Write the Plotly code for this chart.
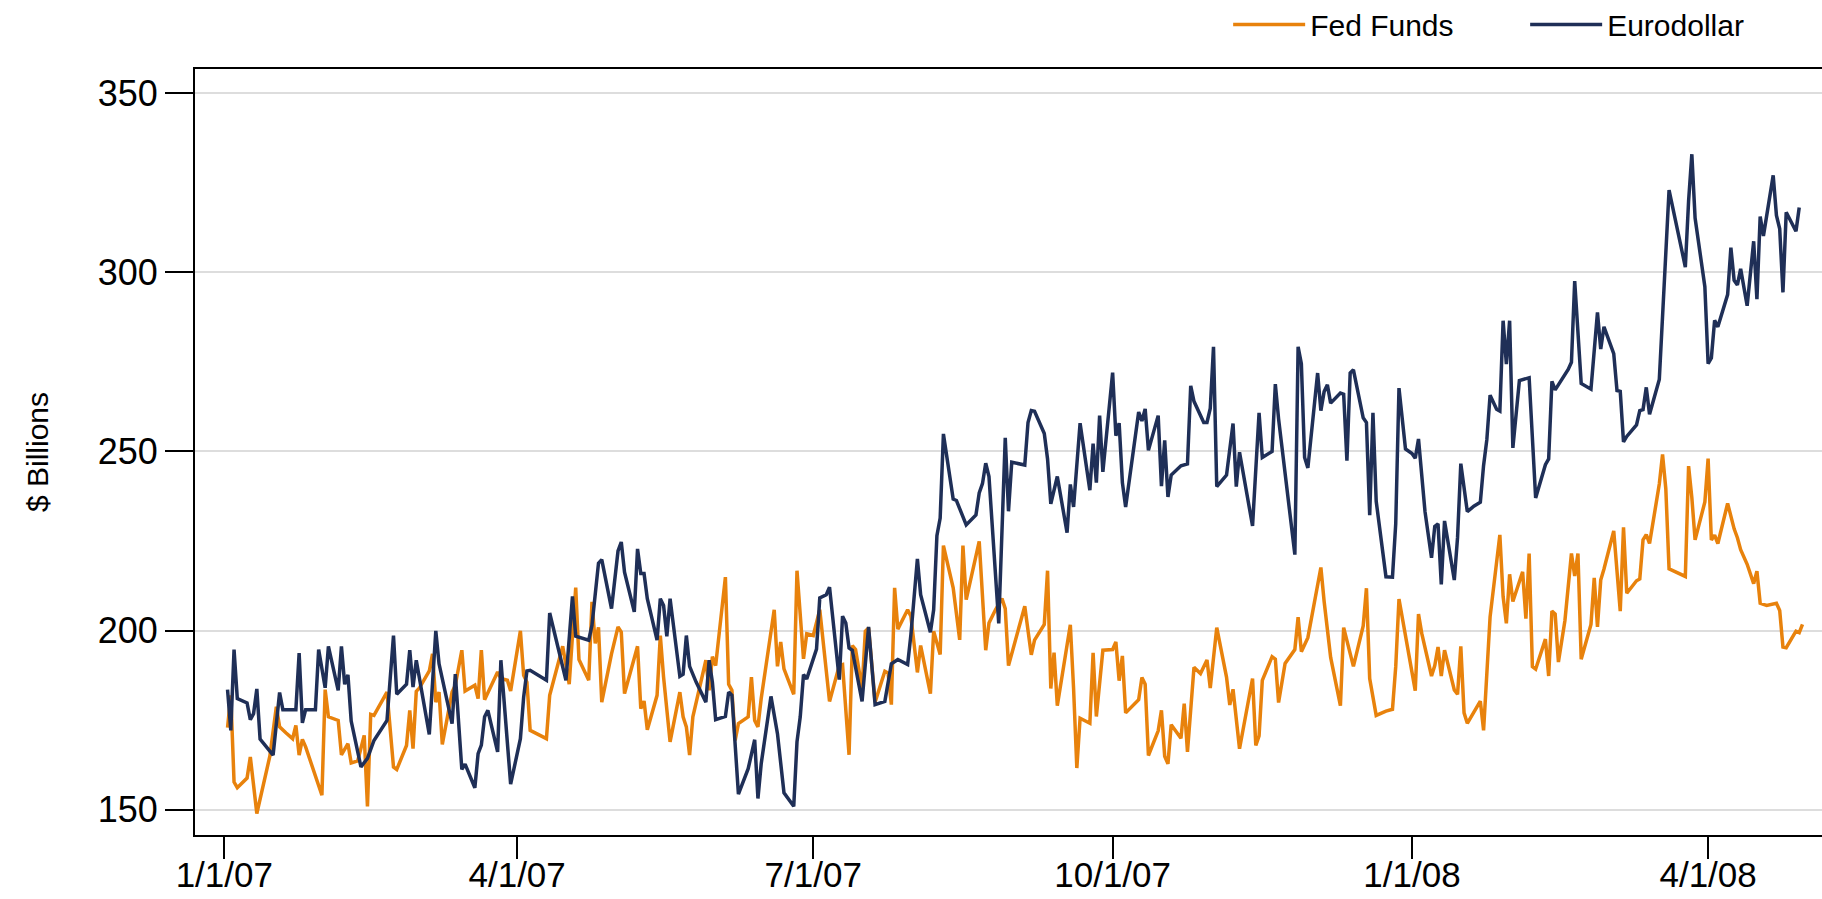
import plotly.graph_objects as go

# ---------------- data ----------------
euro_dates = [
    "2007-01-02","2007-01-03","2007-01-04","2007-01-05","2007-01-08","2007-01-09","2007-01-10","2007-01-11","2007-01-12","2007-01-16",
    "2007-01-18","2007-01-19","2007-01-23","2007-01-24","2007-01-25","2007-01-26","2007-01-29","2007-01-30","2007-02-01","2007-02-02",
    "2007-02-05","2007-02-06","2007-02-07","2007-02-08","2007-02-09","2007-02-12","2007-02-14","2007-02-16","2007-02-20","2007-02-22",
    "2007-02-23","2007-02-26","2007-02-27","2007-02-28","2007-03-01","2007-03-05","2007-03-07","2007-03-08","2007-03-12","2007-03-13",
    "2007-03-15","2007-03-16","2007-03-19","2007-03-20","2007-03-21","2007-03-22","2007-03-23","2007-03-26","2007-03-27","2007-03-30",
    "2007-04-02","2007-04-03","2007-04-04","2007-04-05","2007-04-10","2007-04-11","2007-04-16","2007-04-18","2007-04-19","2007-04-23",
    "2007-04-24","2007-04-26","2007-04-27","2007-04-30","2007-05-02","2007-05-03","2007-05-04","2007-05-07","2007-05-08","2007-05-09",
    "2007-05-10","2007-05-11","2007-05-14","2007-05-15","2007-05-16","2007-05-17","2007-05-18","2007-05-21","2007-05-22","2007-05-23",
    "2007-05-24","2007-05-26","2007-05-29","2007-05-30","2007-05-31","2007-06-01","2007-06-04","2007-06-05","2007-06-06","2007-06-08",
    "2007-06-11","2007-06-13","2007-06-14","2007-06-15","2007-06-18","2007-06-20","2007-06-22","2007-06-25","2007-06-26","2007-06-27",
    "2007-06-28","2007-06-29","2007-07-02","2007-07-03","2007-07-05","2007-07-06","2007-07-09","2007-07-10","2007-07-11","2007-07-12",
    "2007-07-13","2007-07-16","2007-07-18","2007-07-20","2007-07-23","2007-07-25","2007-07-27","2007-07-30","2007-07-31","2007-08-02",
    "2007-08-03","2007-08-06","2007-08-07","2007-08-08","2007-08-09","2007-08-10","2007-08-13","2007-08-14","2007-08-17","2007-08-20",
    "2007-08-21","2007-08-22","2007-08-23","2007-08-24","2007-08-27","2007-08-29","2007-08-30","2007-08-31","2007-09-04","2007-09-05",
    "2007-09-06","2007-09-07","2007-09-10","2007-09-11","2007-09-12","2007-09-14","2007-09-17","2007-09-18","2007-09-19","2007-09-21",
    "2007-09-24","2007-09-25","2007-09-26","2007-09-27","2007-09-28","2007-10-01","2007-10-02","2007-10-03","2007-10-04","2007-10-05",
    "2007-10-09","2007-10-10","2007-10-11","2007-10-12","2007-10-15","2007-10-16","2007-10-17","2007-10-18","2007-10-19","2007-10-22",
    "2007-10-24","2007-10-25","2007-10-26","2007-10-29","2007-10-30","2007-10-31","2007-11-01","2007-11-02","2007-11-05","2007-11-07",
    "2007-11-08","2007-11-09","2007-11-13","2007-11-15","2007-11-16","2007-11-19","2007-11-20","2007-11-21","2007-11-26","2007-11-27",
    "2007-11-28","2007-11-29","2007-11-30","2007-12-03","2007-12-04","2007-12-05","2007-12-06","2007-12-07","2007-12-10","2007-12-11",
    "2007-12-12","2007-12-13","2007-12-14","2007-12-17","2007-12-18","2007-12-19","2007-12-20","2007-12-21","2007-12-24","2007-12-26",
    "2007-12-27","2007-12-28","2007-12-30","2008-01-01","2008-01-02","2008-01-03","2008-01-05","2008-01-07","2008-01-08","2008-01-09",
    "2008-01-10","2008-01-11","2008-01-14","2008-01-15","2008-01-16","2008-01-18","2008-01-20","2008-01-22","2008-01-23","2008-01-24",
    "2008-01-25","2008-01-27","2008-01-28","2008-01-29","2008-01-30","2008-01-31","2008-02-01","2008-02-03","2008-02-06","2008-02-07",
    "2008-02-08","2008-02-11","2008-02-12","2008-02-13","2008-02-14","2008-02-18","2008-02-19","2008-02-20","2008-02-21","2008-02-22",
    "2008-02-25","2008-02-27","2008-02-28","2008-02-29","2008-03-03","2008-03-04","2008-03-05","2008-03-06","2008-03-07","2008-03-10",
    "2008-03-11","2008-03-12","2008-03-13","2008-03-14","2008-03-17","2008-03-18","2008-03-20","2008-03-25","2008-03-26","2008-03-27",
    "2008-03-28","2008-03-31","2008-04-01","2008-04-02","2008-04-03","2008-04-04","2008-04-07","2008-04-08","2008-04-09","2008-04-10",
    "2008-04-11","2008-04-13","2008-04-15","2008-04-16","2008-04-17","2008-04-18","2008-04-21","2008-04-22","2008-04-23","2008-04-24",
    "2008-04-25","2008-04-28","2008-04-29","2008-04-30",
]
euro_values = [
    183.5,172.1,194.7,181.0,179.8,175.1,176.8,183.7,169.7,165.2,
    182.7,177.9,177.9,193.7,174.2,177.9,177.9,194.7,184.0,195.6,
    183.3,195.6,185.0,187.6,174.7,161.9,164.3,169.3,174.9,198.6,
    182.2,185.0,194.5,184.2,191.7,171.0,199.9,190.7,174.0,187.8,
    161.2,162.7,156.1,165.6,168.0,175.9,177.7,166.1,191.7,157.1,
    169.8,181.4,188.7,188.9,186.1,204.9,186.1,209.5,198.4,197.3,
    201.5,218.8,219.8,206.1,222.2,224.7,216.3,205.2,222.8,215.9,
    215.9,208.9,197.3,208.9,207.0,198.4,208.9,187.2,187.8,198.6,
    190.0,185.6,180.0,191.7,185.6,175.1,176.0,182.8,181.9,154.3,
    161.4,169.5,153.1,162.8,181.6,171.2,154.7,150.9,168.9,175.9,
    187.7,186.5,194.8,209.1,210.0,212.1,186.3,204.0,202.1,195.1,
    194.5,180.2,201.0,179.3,180.2,190.7,191.9,190.5,198.8,220.0,
    210.0,199.5,205.8,226.5,231.4,254.9,236.7,236.3,229.5,232.3,
    238.4,241.0,246.7,243.0,202.0,253.8,233.3,247.0,246.2,258.1,
    261.4,261.2,255.0,247.9,235.4,243.0,227.3,240.8,234.5,257.9,
    239.2,252.2,241.3,260.0,244.3,272.0,254.4,257.9,241.3,234.5,
    261.0,258.5,261.9,250.3,260.0,240.3,253.1,237.3,243.4,246.0,
    246.5,268.3,264.0,258.1,258.1,262.0,279.2,240.2,243.4,257.8,
    240.2,249.8,229.2,260.8,248.3,250.0,268.8,259.1,221.2,279.2,
    274.5,248.3,245.4,271.9,261.4,266.7,268.6,263.5,266.3,266.0,
    247.4,271.9,272.8,259.4,258.1,232.2,260.8,236.1,215.0,214.9,
    229.8,267.7,250.7,249.4,248.1,253.5,233.2,220.3,229.1,229.8,
    212.9,230.6,214.1,226.0,246.6,233.2,234.7,235.8,246.1,253.3,
    265.7,261.8,261.3,286.5,274.4,286.5,251.0,269.8,270.6,253.3,
    237.0,246.3,247.9,269.6,267.2,272.9,274.9,297.6,283.7,269.0,
    267.4,288.8,278.6,284.8,277.3,267.0,266.8,252.7,254.2,257.4,
    261.4,261.7,267.9,260.4,270.1,286.9,323.0,301.5,319.9,333.0,
    315.2,296.0,274.5,276.1,286.6,284.8,293.8,306.9,297.8,296.5,
    301.0,290.7,308.7,292.5,315.6,310.2,327.1,315.9,312.2,294.4,
    316.8,311.5,318.1,
]

fed_dates = [
    "2007-01-02","2007-01-03","2007-01-04","2007-01-05","2007-01-08","2007-01-09","2007-01-11","2007-01-15","2007-01-17","2007-01-18",
    "2007-01-20","2007-01-22","2007-01-23","2007-01-24","2007-01-25","2007-01-26","2007-01-31","2007-02-01","2007-02-02","2007-02-05",
    "2007-02-06","2007-02-08","2007-02-09","2007-02-11","2007-02-13","2007-02-14","2007-02-15","2007-02-16","2007-02-20","2007-02-22",
    "2007-02-23","2007-02-26","2007-02-27","2007-02-28","2007-03-01","2007-03-02","2007-03-05","2007-03-06","2007-03-07","2007-03-08",
    "2007-03-09","2007-03-12","2007-03-13","2007-03-15","2007-03-16","2007-03-19","2007-03-20","2007-03-21","2007-03-22","2007-03-26",
    "2007-03-27","2007-03-29","2007-03-30","2007-04-02","2007-04-03","2007-04-04","2007-04-05","2007-04-10","2007-04-11","2007-04-15",
    "2007-04-17","2007-04-19","2007-04-20","2007-04-23","2007-04-24","2007-04-25","2007-04-26","2007-04-27","2007-04-30","2007-05-02",
    "2007-05-03","2007-05-04","2007-05-08","2007-05-09","2007-05-10","2007-05-11","2007-05-14","2007-05-15","2007-05-16","2007-05-18",
    "2007-05-21","2007-05-22","2007-05-23","2007-05-24","2007-05-25","2007-05-29","2007-05-30","2007-05-31","2007-06-01","2007-06-04",
    "2007-06-05","2007-06-06","2007-06-07","2007-06-08","2007-06-11","2007-06-12","2007-06-13","2007-06-14","2007-06-15","2007-06-19",
    "2007-06-20","2007-06-21","2007-06-22","2007-06-25","2007-06-26","2007-06-28","2007-06-29","2007-07-01","2007-07-03","2007-07-06",
    "2007-07-09","2007-07-10","2007-07-12","2007-07-13","2007-07-14","2007-07-16","2007-07-17","2007-07-18","2007-07-20","2007-07-23",
    "2007-07-24","2007-07-25","2007-07-26","2007-07-27","2007-07-30","2007-07-31","2007-08-02","2007-08-03","2007-08-06","2007-08-07",
    "2007-08-09","2007-08-10","2007-08-13","2007-08-15","2007-08-16","2007-08-17","2007-08-21","2007-08-23","2007-08-24","2007-08-26",
    "2007-08-28","2007-08-29","2007-08-30","2007-09-04","2007-09-06","2007-09-07","2007-09-10","2007-09-11","2007-09-12","2007-09-13",
    "2007-09-14","2007-09-18","2007-09-19","2007-09-20","2007-09-21","2007-09-24","2007-09-25","2007-09-26","2007-09-28","2007-10-01",
    "2007-10-02","2007-10-03","2007-10-04","2007-10-05","2007-10-09","2007-10-10","2007-10-11","2007-10-12","2007-10-15","2007-10-16",
    "2007-10-17","2007-10-18","2007-10-19","2007-10-22","2007-10-23","2007-10-24","2007-10-26","2007-10-28","2007-10-30","2007-10-31",
    "2007-11-02","2007-11-05","2007-11-06","2007-11-07","2007-11-09","2007-11-13","2007-11-14","2007-11-15","2007-11-16","2007-11-19",
    "2007-11-20","2007-11-21","2007-11-23","2007-11-26","2007-11-27","2007-11-28","2007-11-30","2007-12-03","2007-12-04","2007-12-05",
    "2007-12-07","2007-12-10","2007-12-11","2007-12-14","2007-12-17","2007-12-18","2007-12-19","2007-12-21","2007-12-24","2007-12-26",
    "2007-12-27","2007-12-28","2007-12-30","2008-01-02","2008-01-03","2008-01-04","2008-01-07","2008-01-08","2008-01-09","2008-01-10",
    "2008-01-11","2008-01-14","2008-01-15","2008-01-16","2008-01-17","2008-01-18","2008-01-22","2008-01-23","2008-01-25","2008-01-28",
    "2008-01-29","2008-01-30","2008-01-31","2008-02-01","2008-02-04","2008-02-05","2008-02-06","2008-02-07","2008-02-08","2008-02-11",
    "2008-02-12","2008-02-13","2008-02-14","2008-02-15","2008-02-17","2008-02-19","2008-02-20","2008-02-21","2008-02-22","2008-02-25",
    "2008-02-26","2008-02-27","2008-02-28","2008-02-29","2008-03-03","2008-03-05","2008-03-06","2008-03-07","2008-03-10","2008-03-11",
    "2008-03-12","2008-03-13","2008-03-14","2008-03-17","2008-03-18","2008-03-19","2008-03-20","2008-03-25","2008-03-26","2008-03-27",
    "2008-03-28","2008-03-31","2008-04-01","2008-04-02","2008-04-03","2008-04-04","2008-04-07","2008-04-09","2008-04-10","2008-04-11",
    "2008-04-13","2008-04-15","2008-04-16","2008-04-17","2008-04-19","2008-04-22","2008-04-23","2008-04-24","2008-04-25","2008-04-28",
    "2008-04-29","2008-04-30",
]
fed_values = [
    172.9,181.9,157.7,156.1,158.8,164.7,148.9,164.9,178.7,173.1,
    171.4,169.8,173.5,165.2,169.6,167.5,154.0,183.5,175.9,174.9,
    165.3,168.4,163.0,163.6,170.7,150.9,176.6,176.3,182.8,161.9,
    161.2,167.9,177.7,167.0,183.0,184.0,188.7,193.5,180.0,182.8,
    168.2,182.8,184.7,194.5,183.1,184.7,181.0,194.5,180.7,188.4,
    186.6,186.1,183.1,199.9,187.5,185.6,172.1,169.8,181.9,195.6,
    185.0,212.0,191.9,186.1,208.0,196.4,200.9,180.0,193.5,201.0,
    199.6,182.4,195.6,178.2,180.3,172.3,181.9,198.6,187.0,168.9,
    182.8,175.9,173.1,165.2,175.9,191.7,183.3,192.7,190.2,214.9,
    185.0,183.3,169.3,174.0,175.9,187.0,174.9,173.1,181.0,205.8,
    190.0,196.8,189.3,182.2,216.7,192.1,199.1,198.6,205.8,180.2,
    190.2,190.5,165.3,195.8,194.7,183.7,199.8,200.7,180.0,188.6,
    188.1,179.3,211.9,200.4,205.8,204.0,188.3,195.8,182.4,199.8,
    193.3,223.7,211.9,197.4,223.7,208.6,224.9,194.5,202.1,205.8,
    208.9,206.1,190.2,206.8,193.2,197.3,201.7,216.7,183.8,193.8,
    179.0,201.6,183.8,161.6,175.5,174.1,193.8,176.0,194.5,194.7,
    196.8,186.0,192.9,177.0,180.7,186.9,185.0,165.1,172.0,177.7,
    164.9,162.8,173.7,169.9,179.6,166.1,189.7,188.0,191.8,183.9,
    200.8,187.0,179.2,183.6,167.0,186.6,167.9,170.6,186.1,192.7,
    192.0,179.9,190.8,194.7,203.7,194.1,198.0,213.3,217.6,208.1,
    192.5,179.0,200.8,190.0,201.3,211.8,186.6,176.3,177.5,178.0,
    189.9,208.8,198.1,183.2,204.6,199.2,187.3,190.2,195.4,187.3,
    194.5,183.4,182.2,195.6,177.0,174.1,180.3,172.1,203.8,226.7,
    209.5,202.0,215.7,208.1,216.4,203.3,221.5,189.9,189.2,197.6,
    187.3,205.4,204.6,191.2,202.8,221.5,215.2,221.5,192.0,201.7,
    214.7,201.0,214.1,217.2,227.8,205.4,228.8,210.4,213.9,214.4,
    225.3,226.8,224.3,240.9,249.2,239.6,217.2,215.1,245.9,237.1,
    225.3,235.9,248.0,225.3,226.6,224.3,235.5,228.4,225.9,222.6,
    218.5,213.1,216.6,207.6,207.0,207.6,205.6,195.4,195.2,199.8,
    199.4,201.7,
]

x_tick_dates = ["2007-01-01", "2007-04-01", "2007-07-01", "2007-10-01", "2008-01-01", "2008-04-01"]
x_tick_labels = ["1/1/07", "4/1/07", "7/1/07", "10/1/07", "1/1/08", "4/1/08"]
y_ticks = [150, 200, 250, 300, 350]

FED_COLOR = "#E8820C"
EURO_COLOR = "#1F2F57"
FONT = "Liberation Sans, Arial, sans-serif"

fig = go.Figure()
fig.add_trace(go.Scatter(x=fed_dates, y=fed_values, mode="lines", name="Fed Funds",
                         line=dict(color=FED_COLOR, width=3.5)))
fig.add_trace(go.Scatter(x=euro_dates, y=euro_values, mode="lines", name="Eurodollar",
                         line=dict(color=EURO_COLOR, width=3.5)))

fig.update_layout(
    template="none",
    width=1822, height=899,
    margin=dict(l=195, r=0, t=69, b=64, autoexpand=False),
    paper_bgcolor="white", plot_bgcolor="white",
    font=dict(family=FONT, color="black"),
    showlegend=True,
    legend=dict(orientation="h", x=0.635, y=1.058, xanchor="left", yanchor="middle",
                font=dict(size=30, family=FONT, color="black"),
                itemwidth=72, bgcolor="rgba(0,0,0,0)", entrywidth=210),
)
fig.update_xaxes(
    type="date", range=["2006-12-23", "2008-05-06"],
    tickmode="array", tickvals=x_tick_dates, ticktext=x_tick_labels,
    ticks="outside", ticklen=22, tickwidth=2, tickcolor="black",
    showline=True, linecolor="black", linewidth=2, mirror=True,
    showgrid=False, zeroline=False, automargin=False,
    tickfont=dict(size=35, family=FONT, color="black"),
    ticklabelstandoff=-14,
)
fig.update_yaxes(
    range=[142.9, 356.8],
    tickmode="array", tickvals=y_ticks,
    ticks="outside", ticklen=28, tickwidth=2, tickcolor="black",
    showline=True, linecolor="black", linewidth=2,
    showgrid=True, gridcolor="#DDDDDD", gridwidth=2, zeroline=False, automargin=False,
    tickfont=dict(size=36, family=FONT, color="black"),
    ticklabelstandoff=0,
    title=dict(text="$ Billions", font=dict(size=30, family=FONT, color="black"), standoff=40),
)

fig.write_html("out.html",
               config={"displayModeBar": False},
               post_script="document.body.style.margin='0';document.body.style.overflow='hidden';")
